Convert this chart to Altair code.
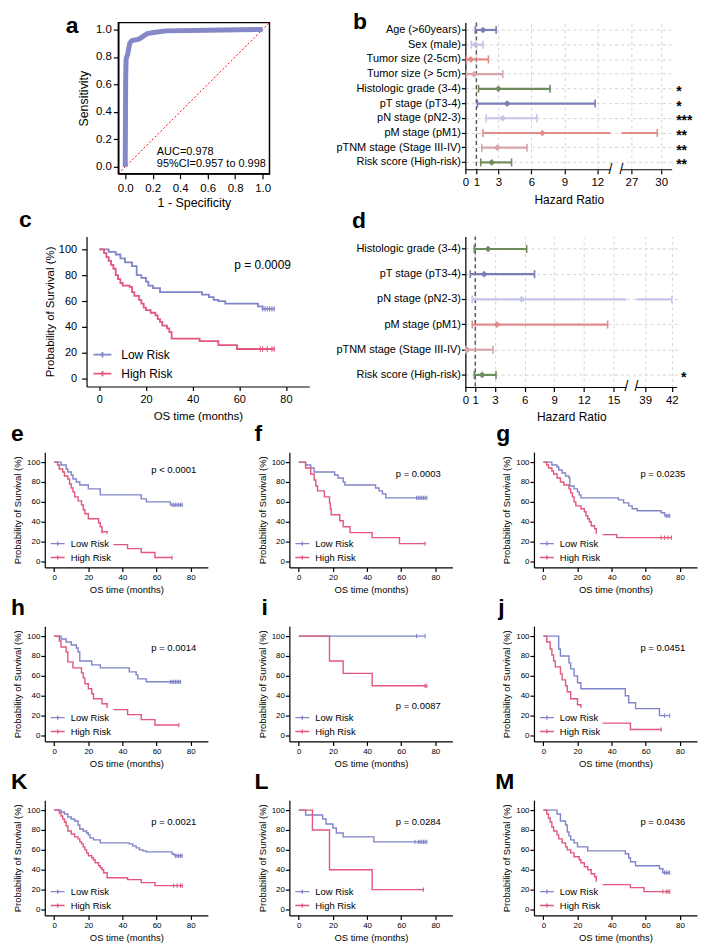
import altair as alt
import pandas as pd

FONT = "Liberation Sans"
LOW_C = "#8084C8"
HIGH_C = "#E2577B"
ROC_C = "#8588C6"

# ---------------- panel a : ROC ----------------
roc_fpr = [0.0, 0.003, 0.006, 0.01, 0.018, 0.025, 0.033, 0.05, 0.1, 0.13, 0.16, 0.22, 0.3, 0.6, 1.0]
roc_tpr = [0.0, 0.62, 0.78, 0.80, 0.82, 0.86, 0.90, 0.92, 0.93, 0.95, 0.97, 0.98, 0.99, 0.995, 1.0]
auc_lines = ["AUC=0.978", "95%CI=0.957 to 0.998"]

# ---------------- panel b : univariate forest ----------------
b_labels = ["Age (>60years)", "Sex (male)", "Tumor size (2-5cm)", "Tumor size (> 5cm)",
            "Histologic grade (3-4)", "pT stage (pT3-4)", "pN stage (pN2-3)", "pM stage (pM1)",
            "pTNM stage (Stage III-IV)", "Risk score (High-risk)"]
b_est = [1.6, 0.9, 0.5, 0.8, 3.0, 3.8, 3.4, 7.0, 2.9, 2.4]
b_low = [0.9, 0.55, 0.1, 0.1, 1.2, 1.1, 1.9, 1.6, 1.5, 1.4]
b_high = [2.8, 1.6, 2.1, 3.4, 7.7, 11.8, 6.5, 29.6, 5.6, 4.2]
b_colors = ["#7A7EB6", "#C4C4EA", "#E38C8C", "#D9A4AC", "#6F8D5C",
            "#7A7EB6", "#C4C4EA", "#E38C8C", "#D9A4AC", "#6F8D5C"]
b_stars = ["", "", "", "", "*", "*", "***", "**", "**", "**"]
b_ticks = [0, 1, 3, 6, 9, 12, 27, 30]

# ---------------- panel d : multivariate forest ----------------
d_labels = ["Histologic grade (3-4)", "pT stage (pT3-4)", "pN stage (pN2-3)", "pM stage (pM1)",
            "pTNM stage (Stage III-IV)", "Risk score (High-risk)"]
d_est = [2.3, 1.9, 5.7, 3.2, 0.2, 1.7]
d_low = [0.9, 0.5, 0.7, 0.7, 0.05, 0.9]
d_high = [6.2, 7.0, 42.0, 14.4, 2.8, 3.1]
d_colors = ["#6F8D5C", "#7A7EB6", "#C4C4EA", "#E38C8C", "#D9A4AC", "#6F8D5C"]
d_stars = ["", "", "", "", "", "*"]
d_ticks = [0, 1, 3, 6, 9, 12, 15, 39, 42]

# ---------------- Kaplan-Meier curves (time in months, survival %) ----------------
c_low = [(0,100),(4,98),(7,96),(9,93),(11,90),(14,87),(16,80),(18,78),(20,75),(21,72),(23,70),(26,67),
         (44,65),(47,63),(49,61),(51,60),(54,58),(68,56),(70,54),(75,54)]
c_low_cens = [70, 71, 72, 73, 74, 75]
c_high = [(0,100),(2,97),(3,94),(4,91),(5,88),(6,85),(7,80),(8,77),(9,74),(10,72),(13,71),(14,67),(15,64),
          (17,61),(18,58),(19,55),(20,53),(22,51),(24,49),(25,46),(26,44),(27,41),(29,39),(30,36),(31,31),
          (43,29),(51,26),(59,23),(75,23)]
c_high_cens = [69, 70, 72, 74, 75]

e_low = [(0,100),(4,97),(7,93),(8,90),(10,87),(11,83),(13,80),(15,77),(20,73),(27,67),(51,63),(54,60),(68,57),(75,57)]
e_low_cens = [69, 70, 71, 72, 73, 74, 75]
e_high = [(0,100),(2,97),(3,93),(5,90),(6,86),(8,83),(9,78),(10,74),(11,70),(12,65),(14,61),(16,57),(17,52),
          (18,48),(20,43),(26,39),(27,35),(28,30),(31,17),(43,13),(51,9),(59,4),(69,4)]
e_high_cens = [28, 69]

f_low = [(0,100),(4,97),(7,94),(9,90),(21,87),(23,84),(26,80),(27,77),(45,74),(47,71),(49,68),(51,64),(75,64)]
f_low_cens = [69, 70, 71, 72, 73, 74, 75]
f_high = [(0,100),(4,94),(7,88),(9,82),(10,76),(11,71),(15,65),(18,59),(18.5,53),(19,47),(24,41),(26,35),
          (30,29),(43,24),(59,18),(74,18)]
f_high_cens = [74]

g_low = [(0,100),(5,97),(8,95),(9,92),(11,89),(13,86),(15,84),(15.5,76),(18,73),(20,70),(21,67),(22,64),
         (44,62),(47,59),(50,56),(52,53),(55,51),(69,49),(71,46),(74,46)]
g_low_cens = [72, 73, 74]
g_high = [(0,100),(2,97),(3,94),(5,91),(6,88),(8,84),(10,80),(12,77),(15,73),(16,69),(17,65),(18,60),
          (19,56),(22,53),(24,50),(25,46),(26,43),(27,40),(28,36),(30,33),(31,27),(43,24),(75,24)]
g_high_cens = [69, 71, 73, 75]

h_low = [(0,100),(4,97),(7,94),(10,91),(13,88),(14,84),(15,75),(22,71),(27,68),(44,64),(48,61),(49,57),
         (54,54),(74,54)]
h_low_cens = [68, 69, 70, 71, 72, 73, 74]
h_high = [(0,100),(3,95),(4,89),(7,84),(8,74),(11,68),(16,63),(17,58),(18,52),(20,47),(22,42),(23,37),
          (28,32),(31,26),(43,21),(51,16),(59,10.5),(73,10.5)]
h_high_cens = [73]

i_low = [(0,100),(74,100)]
i_low_cens = [69, 74]
i_high = [(0,100),(18,75),(26,62.5),(43,50),(75,50)]
i_high_cens = [74, 75]

j_low = [(0,100),(9,87),(10,80),(15,73),(16,67),(18,60),(20,53),(22,47),(48,40),(50,33),(54,27),(68,20),(74,20)]
j_low_cens = [71, 74]
j_high = [(0,100),(2,94),(4,87),(5,81),(6,75),(7,69),(10,62),(11,56),(13,50),(14,44),(16,37),(20,31),
          (22,25),(27,19),(31,12.5),(51,6),(69,6)]
j_high_cens = [69]

k_low = [(0,100),(4,98),(6,96),(8,93),(10,91),(12,89),(14,85),(15,81),(17,79),(19,77),(20,75),(21,72),
         (23,70),(27,67),(44,66),(46,64),(48,62),(50,60),(52,59),(54,58),(69,56),(70,55),(71,54),(75,54)]
k_low_cens = [71, 72, 73, 74, 75]
k_high = [(0,100),(3,97),(4,94),(5,91),(6,88),(7,84),(8,79),(10,76),(12,73),(14,71),(15,68),(16,66),
          (17,63),(18,60),(19,57),(20,54),(22,52),(23,50),(24,47),(26,44),(27,42),(28,40),(29,37),(31,32),
          (43,30),(51,27),(59,24),(75,24)]
k_high_cens = [70, 72, 74, 75]

l_low = [(0,100),(4,95),(14,91),(16,86),(20,82),(22,77),(26,73),(44,68),(75,68)]
l_low_cens = [68, 70, 71, 72, 73, 74, 75]
l_high = [(0,100),(8,80),(18,40),(43,20),(73,20)]
l_high_cens = [73]

m_low = [(0,100),(8,96),(10,89),(13,85),(14,78),(15,74),(16,70),(18,67),(20,63),(26,59),(48,56),(50,52),
         (51,48),(54,44),(68,41),(70,37),(74,37)]
m_low_cens = [71, 72, 73, 74]
m_high = [(0,100),(2,96),(3,92),(4,88),(5,83),(6,79),(8,75),(9,71),(11,67),(13,63),(14,60),(16,57),
          (18,53),(21,50),(22,47),(24,43),(26,40),(28,36),(30,33),(31,25),(51,22),(59,18),(74,18)]
m_high_cens = [70, 72, 73, 74]

p_texts = {"c": "p = 0.0009", "e": "p < 0.0001", "f": "p = 0.0003", "g": "p = 0.0235",
           "h": "p = 0.0014", "i": "p = 0.0087", "j": "p = 0.0451", "K": "p = 0.0021",
           "L": "p = 0.0284", "M": "p = 0.0436"}
p_pos = {"c": (70, 88), "e": (70, 92), "f": (70, 88), "g": (70, 88), "h": (70, 88), "i": (70, 30),
         "j": (70, 88), "K": (70, 88), "L": (70, 88), "M": (70, 88)}

GROUPS = ["Low Risk", "High Risk"]
KM_X = [0, 20, 40, 60, 80]
KM_Y = [0, 20, 40, 60, 80, 100]
ROC_T = [0, 0.2, 0.4, 0.6, 0.8, 1.0]


def title(letter, dx, offset, size=23):
    return alt.TitleParams(letter, anchor="start", frame="group", dx=dx, offset=offset,
                           baseline="alphabetic", fontSize=size, fontWeight="bold", font=FONT,
                           color="black")


def step_value(pts, t):
    v = pts[0][1]
    for tt, s in pts:
        if tt <= t:
            v = s
    return v


def km_chart(key, low, high, low_c, high_c, big=False, W=164, H=116):
    tick_fs = 11 if big else 8
    title_fs = 11.5 if big else 9.5
    leg_fs = 12 if big else 9.5
    sw = 1.8 if big else 1.4
    rows = []
    for g, pts in zip(GROUPS, (low, high)):
        for i, (t, s) in enumerate(pts):
            rows.append({"grp": g, "t": t, "s": s, "o": i})
    line_df = pd.DataFrame(rows)
    x = alt.X("t:Q", scale=alt.Scale(domain=[-5.5, 90], nice=False, zero=False),
              axis=alt.Axis(values=KM_X, tickCount=len(KM_X), title="OS time (months)",
                            labelFontSize=tick_fs, titleFontSize=title_fs, tickSize=4,
                            labelPadding=3 if big else 2, titlePadding=6 if big else 3,
                            labelOverlap=False))
    y = alt.Y("s:Q", scale=alt.Scale(domain=[-6, 110], nice=False, zero=False),
              axis=alt.Axis(values=KM_Y, tickCount=len(KM_Y), title="Probability of Survival (%)",
                            labelFontSize=tick_fs, titleFontSize=title_fs, tickSize=5 if big else 4,
                            labelPadding=5 if big else 1, titlePadding=3 if big else 4,
                            labelOverlap=False))
    leg = alt.Legend(title=None, orient="bottom-left", offset=4 if big else 3,
                     symbolType="M-1,0H1M0,-0.3V0.3", symbolSize=324 if big else 196,
                     symbolStrokeWidth=sw, labelFontSize=leg_fs, labelFont=FONT, labelColor="black",
                     fillColor="white", padding=2, rowPadding=2 if big else 1,
                     labelOffset=9 if big else 5)
    lines = alt.Chart(line_df).mark_line(interpolate="step-after", strokeWidth=sw).encode(
        x=x, y=y,
        color=alt.Color("grp:N", scale=alt.Scale(domain=GROUPS, range=[LOW_C, HIGH_C]), legend=leg),
        order="o:Q")
    layers = [lines]
    for pts, cs, col in ((low, low_c, LOW_C), (high, high_c, HIGH_C)):
        cdf = pd.DataFrame({"t": cs, "s": [step_value(pts, c) for c in cs]})
        layers.append(alt.Chart(cdf).mark_point(shape="M0,-1V1", size=30 if big else 18, color=col,
                                                strokeWidth=1.1, opacity=1).encode(x="t:Q", y="s:Q"))
    px, py = p_pos[key]
    pdf = pd.DataFrame({"t": [px], "s": [py], "label": [p_texts[key]]})
    layers.append(alt.Chart(pdf).mark_text(fontSize=12 if big else 9.5, font=FONT, color="black",
                                           align="center").encode(x="t:Q", y="s:Q", text="label:N"))
    return alt.layer(*layers).properties(width=W, height=H)


def forest_chart(labels, est, lo, hi, colors, stars, ticks, dom, rng, W, H):
    brk0, brk1 = dom[1], dom[2]
    segs = []
    for lab, l, h in zip(labels, lo, hi):
        segs.append({"label": lab, "x1": l, "x2": min(h, brk0)})
        if h > brk1:
            segs.append({"label": lab, "x1": brk1, "x2": h})
    seg_df = pd.DataFrame(segs)
    caps = pd.DataFrame({"label": labels + labels, "v": lo + hi})
    pts = pd.DataFrame({"label": labels, "v": est, "star": stars})
    xs = alt.Scale(domain=dom, range=rng, nice=False, zero=False)
    yenc = alt.Y("label:N", sort=labels,
                 axis=alt.Axis(title=None, labelFontSize=11, tickSize=4, labelPadding=1, grid=True,
                               gridDash=[3, 3], gridColor="#d4d4d4", labelLimit=300, labelOverlap=False))
    cenc = alt.Color("label:N", scale=alt.Scale(domain=labels, range=colors), legend=None)
    xaxis = alt.Axis(values=ticks, tickCount=len(ticks), title="Hazard Ratio", labelFontSize=11.5,
                     titleFontSize=12, domain=False, tickSize=4, grid=True, gridDash=[3, 3],
                     gridColor="#d4d4d4", labelPadding=3, titlePadding=6, labelFlush=False,
                     labelOverlap=False)
    rules = alt.Chart(seg_df).mark_rule(strokeWidth=2.2).encode(
        x=alt.X("x1:Q", scale=xs, axis=xaxis), x2="x2:Q", y=yenc, color=cenc)
    capm = alt.Chart(caps).mark_tick(thickness=1.6, size=8, opacity=1).encode(
        x=alt.X("v:Q", scale=xs), y=alt.Y("label:N", sort=labels), color=cenc)
    ptm = alt.Chart(pts).mark_point(shape="diamond", filled=True, size=45, opacity=1).encode(
        x=alt.X("v:Q", scale=xs), y=alt.Y("label:N", sort=labels), color=cenc)
    ref = alt.Chart(pd.DataFrame({"v": [1]})).mark_rule(strokeDash=[4, 3], color="#555555",
                                                         strokeWidth=1.4).encode(x=alt.X("v:Q", scale=xs))
    axis_df = pd.DataFrame({"a": [dom[0], brk1], "b": [brk0, dom[3]]})
    axl = alt.Chart(axis_df).mark_rule(color="black", strokeWidth=1.2).encode(
        x=alt.X("a:Q", scale=xs), x2="b:Q", y=alt.value(H))
    sl = alt.Chart(pd.DataFrame({"v": [brk0, brk1]})).mark_text(text="/", fontSize=14, font=FONT,
                                                                  color="black").encode(
        x=alt.X("v:Q", scale=xs), y=alt.value(H))
    st = alt.Chart(pts).mark_text(align="left", fontSize=14, fontWeight="bold", font=FONT,
                                  color="black", dy=3).encode(
        x=alt.value(W + 4), y=alt.Y("label:N", sort=labels), text="star:N")
    return alt.layer(ref, rules, capm, ptm, axl, sl, st).properties(width=W, height=H)


# ---------------- panel a ----------------
roc_df = pd.DataFrame({"fpr": roc_fpr, "tpr": roc_tpr})
sc01 = alt.Scale(domain=[-0.05, 1.05], nice=False, zero=False)
ax_a = dict(values=ROC_T, tickCount=len(ROC_T), format=".1f", labelFontSize=11.5, titleFontSize=12.5,
            tickSize=5, labelOverlap=False)
roc_line = alt.Chart(roc_df).mark_line(strokeWidth=5, color=ROC_C).encode(
    x=alt.X("fpr:Q", scale=sc01, axis=alt.Axis(title="1 - Specificity", titlePadding=2, labelPadding=4,
                                               **ax_a)),
    y=alt.Y("tpr:Q", scale=sc01, axis=alt.Axis(title="Sensitivity", titlePadding=5, labelPadding=2, **ax_a)))
diag = alt.Chart(pd.DataFrame({"fpr": [-0.05, 1.05], "tpr": [-0.05, 1.05]})).mark_line(
    color="red", strokeDash=[2, 2], strokeWidth=1).encode(x="fpr:Q", y="tpr:Q")
auc_df = pd.DataFrame({"fpr": [0.23, 0.23], "tpr": [0.11, 0.02], "txt": auc_lines})
auc = alt.Chart(auc_df).mark_text(align="left", fontSize=11, font=FONT, color="black").encode(
    x="fpr:Q", y="tpr:Q", text="txt:N")
panel_a = alt.layer(diag, roc_line, auc).properties(
    width=152, height=152, title=title("a", -53, -37),
    view=alt.ViewBackground(stroke="black", strokeWidth=1.5))

panel_b = forest_chart(b_labels, b_est, b_low, b_high, b_colors, b_stars, b_ticks,
                       [0, 13.2, 26, 31.1], [0, 146, 157, 208], 208, 148).properties(
    title=title("b", -113, -30))
panel_d = forest_chart(d_labels, d_est, d_low, d_high, d_colors, d_stars, d_ticks,
                       [0, 16.3, 38, 42.6], [0, 162, 172, 213], 213, 152).properties(
    title=title("d", -114, -15))

panel_c = km_chart("c", c_low, c_high, c_low_cens, c_high_cens, big=True, W=224, H=151).properties(
    title=title("c", -68, -14))
panel_e = km_chart("e", e_low, e_high, e_low_cens, e_high_cens).properties(title=title("e", -34, -12))
panel_f = km_chart("f", f_low, f_high, f_low_cens, f_high_cens).properties(title=title("f", -35, -12))
panel_g = km_chart("g", g_low, g_high, g_low_cens, g_high_cens).properties(title=title("g", -38, -12))
panel_h = km_chart("h", h_low, h_high, h_low_cens, h_high_cens).properties(title=title("h", -34, -12))
panel_i = km_chart("i", i_low, i_high, i_low_cens, i_high_cens).properties(title=title("i", -28, -12))
panel_j = km_chart("j", j_low, j_high, j_low_cens, j_high_cens).properties(title=title("j", -36, -12))
panel_k = km_chart("K", k_low, k_high, k_low_cens, k_high_cens).properties(title=title("K", -34, -12))
panel_l = km_chart("L", l_low, l_high, l_low_cens, l_high_cens).properties(title=title("L", -35, -12))
panel_m = km_chart("M", m_low, m_high, m_low_cens, m_high_cens).properties(title=title("M", -39, -12))


def sp(w, h=1):
    return alt.Chart(pd.DataFrame({"v": [0]})).mark_point(opacity=0).encode(
        x=alt.value(0), y=alt.value(0)).properties(width=w, height=h)


def hrow(*charts):
    return alt.hconcat(*charts, spacing=0, bounds="flush").resolve_scale(color="independent")


T = 692
row1 = hrow(sp(108), panel_a, sp(197), panel_b, sp(T - 665))
row2 = hrow(sp(76), panel_c, sp(157), panel_d, sp(T - 670))
row3 = hrow(sp(34), panel_e, sp(82), panel_f, sp(82), panel_g, sp(T - 690))
row4 = hrow(sp(34), panel_h, sp(82), panel_i, sp(82), panel_j, sp(T - 690))
row5 = hrow(sp(34), panel_k, sp(82), panel_l, sp(82), panel_m, sp(T - 690))

top = alt.vconcat(row1, row2, row3, spacing=0).resolve_scale(color="independent")
bottom = alt.vconcat(row4, row5, spacing=3).resolve_scale(color="independent")

chart = alt.vconcat(top, bottom, spacing=3).resolve_scale(
    color="independent").properties(padding=0).configure(font=FONT).configure_view(
    stroke=None).configure_axis(domainColor="black", tickColor="black", labelColor="black",
                                titleColor="black", labelFont=FONT, titleFont=FONT, grid=False,
                                titleFontWeight="normal", domainWidth=1.2, tickWidth=1.2)

chart.save("out.html", embed_options={"renderer": "svg", "actions": False})
